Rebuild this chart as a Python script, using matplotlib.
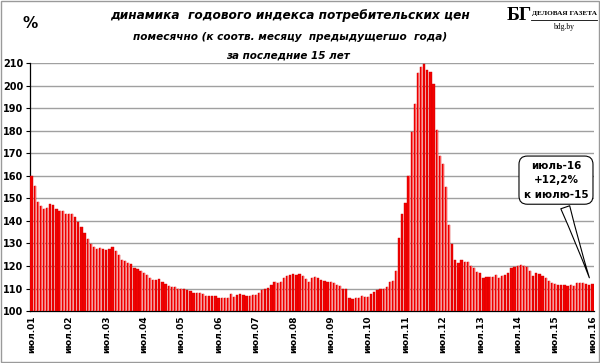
import matplotlib
matplotlib.use("Agg")
import matplotlib.pyplot as plt
from matplotlib.patches import Rectangle

values = [
    160.0, 155.7, 148.6, 146.6, 145.4, 145.7, 147.7, 147.2, 145.4, 144.6, 144.3, 143.1,
    142.9, 143.1, 141.9, 139.4, 137.2, 134.6, 132.1, 129.6, 128.4, 127.7, 128.1, 127.7,
    127.0, 127.7, 128.3, 126.5, 124.8, 122.5, 122.4, 121.5, 121.0, 119.3, 118.5, 117.8,
    117.0, 115.8, 114.8, 114.0, 113.7, 114.2, 112.7, 111.8, 111.3, 110.7, 110.6, 109.6,
    109.6, 109.6, 109.3, 109.0, 108.1, 108.1, 108.2, 107.5, 106.7, 106.9, 106.6, 106.6,
    106.0, 105.8, 105.8, 105.8, 107.5, 106.3, 107.0, 107.8, 107.3, 106.6, 106.6, 107.0,
    107.0, 108.1, 109.3, 110.0, 110.2, 111.5, 112.7, 112.5, 113.1, 114.5, 115.7, 116.1,
    116.3, 116.0, 116.3, 115.5, 114.2, 113.0, 114.5, 115.2, 114.8, 114.0, 113.3, 113.1,
    112.8, 112.5, 111.5, 111.0, 109.6, 109.7, 106.0, 105.4, 105.7, 106.0, 106.6, 106.4,
    106.1, 107.5, 108.5, 109.3, 109.9, 109.6, 110.5, 112.7, 113.5, 117.8, 132.3, 143.1,
    147.9, 160.1, 179.3, 191.9, 205.8, 208.4, 209.6, 206.9, 206.2, 200.7, 180.4, 169.0,
    165.3, 155.2, 138.4, 129.8, 122.5, 121.4, 122.5, 122.0, 121.6, 120.1, 118.9, 117.4,
    117.1, 114.6, 115.1, 115.1, 115.1, 116.2, 114.9, 115.5, 116.0, 117.0, 119.0, 119.7,
    120.0, 120.3, 120.0, 119.4, 117.9, 115.7, 116.7, 116.3, 115.5, 114.9, 113.4, 112.5,
    111.9, 111.6, 111.6, 111.5, 111.0, 111.6, 111.3, 112.4, 112.4, 112.4, 112.1, 111.6,
    112.2,
]
year_labels = ["июл.%02d" % y for y in range(1, 17)]
y_ticks = list(range(100, 211, 10))

title1 = "динамика  годового индекса потребительских цен"
title2 = "помесячно (к соотв. месяцу  предыдущегшо  года)"
title3 = "за последние 15 лет"
callout_text = "июль-16\n+12,2%\nк июлю-15"

fig = plt.figure(figsize=(6.0, 3.63), dpi=100)
fig.patch.set_facecolor("white")
ax = fig.add_axes([0.05, 0.143, 0.94, 0.683])

x = list(range(len(values)))
heights = [v - 100 for v in values]
ax.bar(x, heights, bottom=100, width=0.72, color="#F20000", edgecolor="#D00000",
       linewidth=0.3, zorder=3)
ax.bar([i + 0.2 for i in x], heights, bottom=100, width=0.18, color="#FF5A5A",
       linewidth=0, zorder=3)

ax.set_xlim(-0.5, len(values) - 0.5)
ax.set_ylim(100, 210)
ax.set_yticks(y_ticks)
ax.set_yticklabels([str(t) for t in y_ticks], fontsize=7, fontweight="bold")
ax.set_xticks(list(range(0, len(values), 12)))
ax.set_xticklabels(year_labels, rotation=90, fontsize=6.5, fontweight="bold")
ax.tick_params(axis="y", length=3, width=0.8, pad=2)
ax.tick_params(axis="x", length=0, pad=3)
ax.grid(axis="y", color="#A0A0A0", linewidth=1.0, zorder=0)
for s in ["top", "right"]:
    ax.spines[s].set_visible(False)
ax.spines["left"].set_color("black")
ax.spines["bottom"].set_color("black")
ax.spines["left"].set_linewidth(0.9)
ax.spines["bottom"].set_linewidth(0.9)

ax.annotate(callout_text, xy=(179.3, 113.6), xytext=(168.3, 158.1),
            ha="center", va="center", fontsize=7.5, fontweight="bold",
            linespacing=1.55,
            bbox=dict(boxstyle="round,pad=0.45,rounding_size=0.8", fc="white", ec="black", lw=0.8),
            arrowprops=dict(arrowstyle="wedge,tail_width=0.9,shrink_factor=0.4",
                            fc="white", ec="black", lw=0.8),
            zorder=5)

tfont = dict(fontweight="bold", style="italic", ha="center", va="center")
fig.text(290 / 600, 1 - 15 / 363, title1, fontsize=8.7, **tfont)
fig.text(290 / 600, 1 - 37 / 363, title2, fontsize=7.6, **tfont)
fig.text(288 / 600, 1 - 55 / 363, title3, fontsize=7.5, **tfont)
fig.text(30 / 600, 1 - 24 / 363, "%", fontsize=11, fontweight="bold", ha="center", va="center")

fig.text(519 / 600, 1 - 16 / 363, "БГ", fontsize=14, fontweight="bold",
         family="Liberation Serif", ha="center", va="center")
fig.text(564 / 600, 1 - 14 / 363, "ДЕЛОВАЯ ГАЗЕТА", fontsize=5.2, fontweight="bold",
         family="Liberation Serif", ha="center", va="center")
fig.add_artist(plt.Line2D([531 / 600, 597 / 600], [1 - 19.5 / 363, 1 - 19.5 / 363],
                          color="black", linewidth=0.6))
fig.text(564 / 600, 1 - 27 / 363, "bdg.by", fontsize=5.5, family="Liberation Serif",
         ha="center", va="center")

fig.add_artist(Rectangle((0.001, 0.002), 0.997, 0.996, transform=fig.transFigure,
                         fill=False, edgecolor="#9A9A9A", linewidth=1.0))

fig.savefig("out.png", dpi=100, facecolor="white")
